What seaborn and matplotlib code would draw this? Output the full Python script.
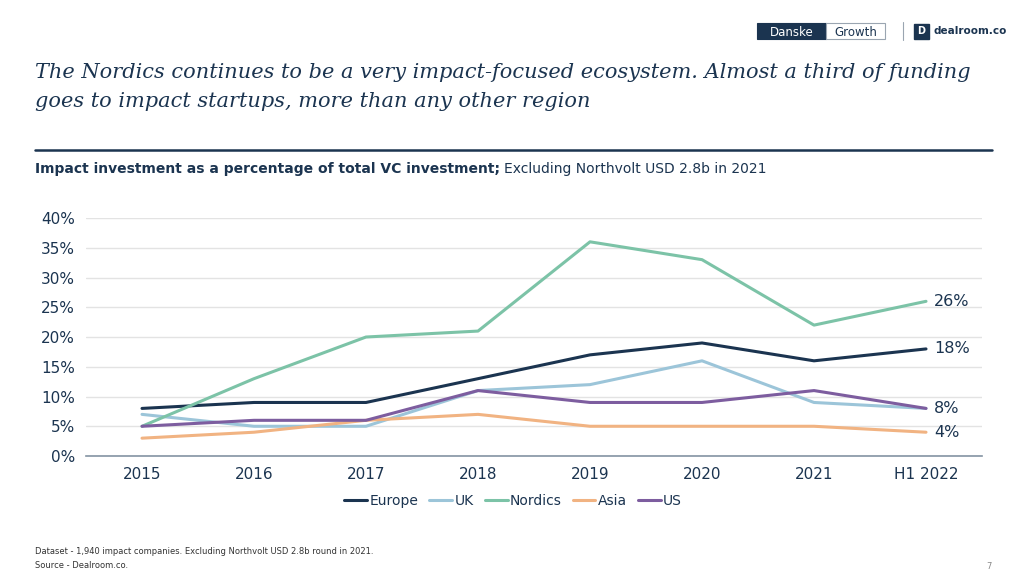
import pandas as pd
import numpy as np
import matplotlib
matplotlib.use("Agg")
import matplotlib.pyplot as plt
from matplotlib.patches import Rectangle
import seaborn as sns

# DATA
periods = ["2015", "2016", "2017", "2018", "2019", "2020", "2021", "H1 2022"]
europe = [8, 9, 9, 13, 17, 19, 16, 18]
uk = [7, 5, 5, 11, 12, 16, 9, 8]
nordics = [5, 13, 20, 21, 36, 33, 22, 26]
asia = [3, 4, 6, 7, 5, 5, 5, 4]
us = [5, 6, 6, 11, 9, 9, 11, 8]
regions = ["Europe", "UK", "Nordics", "Asia", "US"]
end_labels = {"Nordics": "26%", "Europe": "18%", "US": "8%", "Asia": "4%"}

colors = {"Europe": "#1b3450", "UK": "#9cc5d9", "Nordics": "#7cc3a7",
          "Asia": "#f1b382", "US": "#7d5d9f"}
navy = "#1b3450"

# long-form table for seaborn
df = pd.DataFrame({"period": periods * 5,
                   "x": list(range(len(periods))) * 5,
                   "value": europe + uk + nordics + asia + us,
                   "region": np.repeat(regions, len(periods))})

sns.set_style("white")
plt.rcParams["font.family"] = ["DejaVu Sans"]

fig = plt.figure(figsize=(10.24, 5.76), dpi=100)
ax = fig.add_axes([0.084, 0.2083, 0.875, 0.4132])

sns.lineplot(data=df, x="x", y="value", hue="region", hue_order=regions,
             palette=colors, linewidth=2.2, ax=ax, legend=False, sort=False)

# end labels
for r in regions:
    if r in end_labels:
        last = df[(df.region == r)].iloc[-1]
        ax.annotate(end_labels[r], (last.x, last.value), xytext=(6, 0),
                    textcoords="offset points", va="center", ha="left",
                    fontsize=11.5, color=navy)

ax.set_xlim(-0.5, 7.5)
ax.set_ylim(0, 40)
ax.set_xticks(range(len(periods)))
ax.set_xticklabels(periods)
ax.set_yticks(range(0, 41, 5))
ax.set_yticklabels([f"{v}%" for v in range(0, 41, 5)])
ax.tick_params(axis="both", labelsize=11, colors=navy, length=0, pad=8)
ax.set_xlabel("")
ax.set_ylabel("")
ax.grid(axis="y", color="#e3e3e3", linewidth=1)
for s in ["top", "right", "left"]:
    ax.spines[s].set_visible(False)
ax.spines["bottom"].set_color("#8494a3")
ax.spines["bottom"].set_linewidth(1.2)
ax.set_axisbelow(True)

# legend
handles = [plt.Line2D([0], [0], color=colors[r], lw=2.2) for r in regions]
fig.legend(handles, regions, loc="center", bbox_to_anchor=(0.501, 0.13),
           ncol=5, frameon=False, fontsize=10, handlelength=1.65,
           handletextpad=0.15, columnspacing=0.8, labelcolor=navy)

# title and subtitle
fig.text(0.034, 0.8745, "The Nordics continues to be a very impact-focused ecosystem. Almost a third of funding",
         fontsize=15, style="italic", family="DejaVu Serif", color=navy,
         va="center", ha="left")
fig.text(0.034, 0.824, "goes to impact startups, more than any other region",
         fontsize=15, style="italic", family="DejaVu Serif", color=navy,
         va="center", ha="left")
fig.add_artist(plt.Line2D([0.034, 0.969], [0.74, 0.74], color=navy, lw=1.8))
t1 = fig.text(0.034, 0.707, "Impact investment as a percentage of total VC investment;",
              fontsize=10, weight="bold", color=navy, va="center", ha="left")
fig.canvas.draw()
bb = t1.get_window_extent()
fig.text(bb.x1 / fig.bbox.width + 0.004, 0.707, "Excluding Northvolt USD 2.8b in 2021",
         fontsize=10, color=navy, va="center", ha="left")

# logos
W, H = 1024, 576
fig.add_artist(Rectangle((757 / W, 1 - 39 / H), 69 / W, 16 / H, transform=fig.transFigure,
                         fc=navy, ec=navy, lw=0.8))
fig.add_artist(Rectangle((826 / W, 1 - 39 / H), 59 / W, 16 / H, transform=fig.transFigure,
                         fc="white", ec="#9aa5b1", lw=0.8))
fig.text(791.5 / W, 1 - 31 / H, "Danske", fontsize=8.5, color="white", va="center_baseline", ha="center")
fig.text(855.5 / W, 1 - 31 / H, "Growth", fontsize=8.5, color=navy, va="center_baseline", ha="center")
fig.add_artist(plt.Line2D([903 / W, 903 / W], [1 - 40 / H, 1 - 22 / H], color="#9aa5b1", lw=0.8))
fig.add_artist(Rectangle((914 / W, 1 - 39 / H), 15 / W, 15 / H, transform=fig.transFigure,
                         fc=navy, ec=navy))
fig.text(921.5 / W, 1 - 31.5 / H, "D", fontsize=7, weight="bold", color="white",
         va="center", ha="center")
fig.text(933 / W, 1 - 31 / H, "dealroom.co", fontsize=7.5, weight="bold", color=navy,
         va="center", ha="left")

# footnotes
fig.text(0.034, 0.042, "Dataset - 1,940 impact companies. Excluding Northvolt USD 2.8b round in 2021.",
         fontsize=6, color="#333333", va="center", ha="left")
fig.text(0.034, 0.019, "Source - Dealroom.co.", fontsize=6, color="#333333",
         va="center", ha="left")
fig.text(0.966, 0.017, "7", fontsize=6, color="#888888", va="center", ha="center")

fig.savefig("out.png", dpi=100)
